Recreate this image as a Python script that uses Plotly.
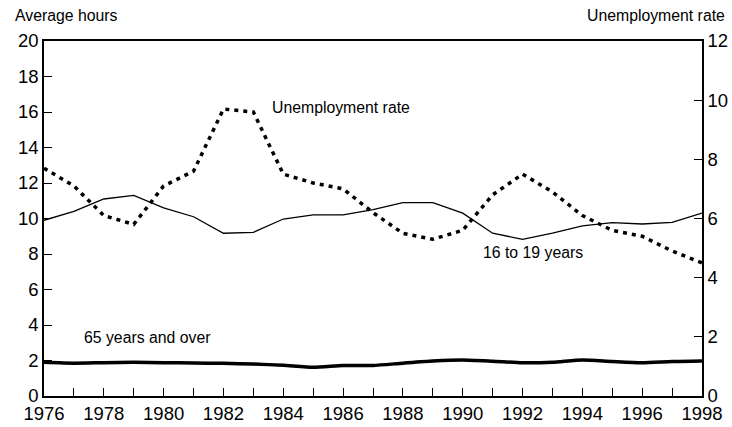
import plotly.graph_objects as go

years = list(range(1976, 1999))
teen_hours = [9.9, 10.4, 11.1, 11.3, 10.6, 10.1, 9.17, 9.22, 9.97, 10.2, 10.2, 10.5, 10.9, 10.9,
              10.3, 9.17, 8.83, 9.17, 9.58, 9.77, 9.69, 9.78, 10.3]
senior_hours = [1.9, 1.85, 1.88, 1.9, 1.88, 1.86, 1.84, 1.8, 1.73, 1.62, 1.72, 1.72, 1.85, 1.97,
                2.03, 1.96, 1.87, 1.9, 2.03, 1.94, 1.87, 1.94, 1.97]
unemp_rate = [7.7, 7.1, 6.1, 5.8, 7.1, 7.6, 9.7, 9.6, 7.5, 7.2, 7.0, 6.2, 5.5, 5.3,
              5.6, 6.8, 7.5, 6.9, 6.1, 5.6, 5.4, 4.9, 4.5]

x_tickvals = years
x_ticktext = [str(y) if (y - 1976) % 2 == 0 else "" for y in years]

font = "Liberation Sans, Arial, sans-serif"
tick_size = 18.5
ann_size = 15.8

fig = go.Figure()
fig.add_trace(go.Scatter(x=years, y=teen_hours, mode="lines",
                         line=dict(color="black", width=1.3), yaxis="y"))
fig.add_trace(go.Scatter(x=years, y=senior_hours, mode="lines",
                         line=dict(color="black", width=3.5, shape="spline", smoothing=0.6), yaxis="y"))
fig.add_trace(go.Scatter(x=years, y=unemp_rate, mode="lines",
                         line=dict(color="black", width=3.5, dash="4px,5px"), yaxis="y2"))

fig.update_layout(
    width=732, height=427,
    margin=dict(l=44, r=30, t=41, b=31, autoexpand=False),
    paper_bgcolor="white", plot_bgcolor="white",
    showlegend=False,
    font=dict(family=font, color="black", size=tick_size),
    xaxis=dict(range=[1976, 1998], tickvals=x_tickvals, ticktext=x_ticktext,
               ticks="inside", ticklen=8, tickwidth=1, tickcolor="black",
               showline=True, linecolor="black", linewidth=1.5, mirror=True,
               showgrid=False, zeroline=False, tickfont=dict(size=tick_size),
               automargin=False),
    yaxis=dict(range=[0, 20], dtick=2, ticks="inside", ticklen=8, tickcolor="black",
               showline=True, linecolor="black", linewidth=1.5,
               showgrid=False, zeroline=False, tickfont=dict(size=tick_size),
               automargin=False),
    yaxis2=dict(range=[0, 12], dtick=2, overlaying="y", side="right",
                ticks="inside", ticklen=8, tickcolor="black",
                showline=True, linecolor="black", linewidth=1.5,
                showgrid=False, zeroline=False, tickfont=dict(size=tick_size),
                automargin=False),
    annotations=[
        dict(text="Average hours", xref="paper", yref="paper", x=-0.0471, y=1.0, yshift=26,
             xanchor="left", yanchor="middle", showarrow=False, font=dict(size=ann_size)),
        dict(text="Unemployment rate", xref="paper", yref="paper", x=1.038, y=1.0, yshift=26,
             xanchor="right", yanchor="middle", showarrow=False, font=dict(size=ann_size)),
        dict(text="Unemployment rate", x=1983.56, y=16.23, xanchor="left", yanchor="middle",
             showarrow=False, font=dict(size=ann_size)),
        dict(text="16 to 19 years", x=1992.35, y=8.11, xanchor="center", yanchor="middle",
             showarrow=False, font=dict(size=ann_size)),
        dict(text="65 years and over", x=1977.27, y=3.32, xanchor="left", yanchor="middle",
             showarrow=False, font=dict(size=ann_size)),
    ],
)

fig.write_html("out.html", config={"displayModeBar": False},
               post_script="document.body.style.margin='0';document.body.style.overflow='hidden';")
